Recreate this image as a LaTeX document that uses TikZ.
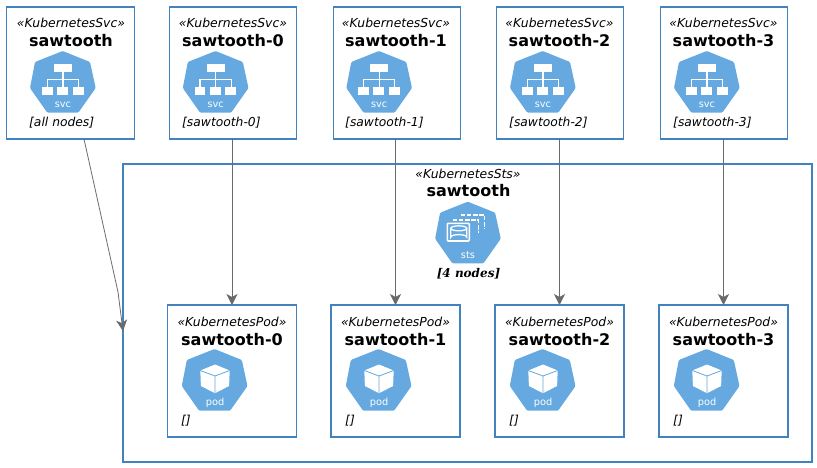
\documentclass[tikz,border=0pt]{standalone}
\usepackage{fontspec}
\setmainfont{DejaVu Sans}
\newfontfamily\serifbi{DejaVu Serif}
\usetikzlibrary{arrows.meta}
\definecolor{kblue}{HTML}{4282BE}
\definecolor{khept}{HTML}{65A9E0}
\definecolor{kline}{HTML}{6A6A6A}
\tikzset{
  x=1pt,y=-1pt,
  kbox/.style={draw=kblue,line width=1.2pt,fill=white,inner sep=0pt,outer sep=0pt},
  stereo/.style={inner sep=0pt,font=\fontsize{12.4}{14}\selectfont\itshape,text=black},
  ttl/.style={inner sep=0pt,font=\fontsize{16}{18}\selectfont\bfseries,text=black},
  lbl/.style={inner sep=0pt,anchor=west,font=\fontsize{12.3}{14}\selectfont\itshape,text=black},
  icontxt/.style={inner sep=0pt,text=white,font=\fontsize{9.8}{11}\selectfont},
  conn/.style={draw=kline,line width=0.8pt,-{Stealth[inset=3pt,length=11pt,width=11pt]}},
  hept/.pic={
    \fill[khept,rounded corners=1.2pt] (0,0) -- (27.3,11) -- (33,37) -- (15.6,61.7) -- (-15.4,61.7) -- (-32.7,37) -- (-27.7,11) -- cycle;
  },
  svcicon/.pic={
    \pic {hept};
    \fill[white] (-8.8,12.7) rectangle (9.2,21);
    \draw[white,line width=1.3pt] (0.2,20.7) -- (0.2,36.5) (-15.5,36.5) -- (-15.5,28.5) -- (15.8,28.5) -- (15.8,36.5);
    \fill[white] (-21,35.8) rectangle (-10.2,43.6);
    \fill[white] (-5.7,35.8) rectangle (5.1,43.6);
    \fill[white] (9.9,35.8) rectangle (20.9,43.6);
    \node[icontxt] at (0.2,53.5) {svc};
  },
  podicon/.pic={
    \pic {hept};
    \fill[white] (0.5,15.5) -- (15.2,21.5) -- (14.6,37) -- (0.5,44.2) -- (-13.6,37) -- (-14.2,21.5) -- cycle;
    \draw[khept,line width=0.8pt] (-14.2,21.5) -- (0.5,27) -- (15.2,21.5) (0.5,27) -- (0.5,44.2);
    \node[icontxt] at (0.5,53.5) {pod};
  },
  stsicon/.pic={
    \pic {hept};
    \draw[white,line width=1.4pt,dash pattern=on 4.5pt off 1.6pt] (-7,13.3) -- (16.5,13.3) -- (16.5,26.6);
    \draw[white,line width=1.4pt,dash pattern=on 4.5pt off 1.6pt] (-15,18.3) -- (10.5,18.3) -- (10.5,31.3);
    \draw[white,line width=1.6pt,fill=khept,rounded corners=1pt] (-20.5,21.6) rectangle (1.5,39.3);
    \draw[white,line width=1.3pt] (-17,26.6) -- (-17,35.4) arc[start angle=180,end angle=360,x radius=8,y radius=2.5] -- (-1,26.6);
    \draw[white,line width=1.3pt] (-9,26.6) ellipse (8 and 2.5);
    \node[icontxt] at (0.2,53.5) {sts};
  }
}
\begin{document}
\begin{tikzpicture}
\useasboundingbox (0,0) rectangle (817,467);
\fill[white] (0,0) rectangle (817,467);
% statefulset
\node[kbox,minimum width=689pt,minimum height=298pt] (sts) at (467.5,313) {};
\node[stereo] (ststereo) at (468,174) {«KubernetesSts»};
\node[ttl] (stsname) at (468.5,191) {sawtooth};
\pic at (467.8,201.7) {stsicon};
\node[inner sep=0pt,font=\fontsize{12}{14}\selectfont\serifbi\bfseries\itshape] (stscount) at (468.5,273.5) {[4 nodes]};
% services
\foreach \n/\t/\l/\c/\tc/\ic/\lx in {
  all/sawtooth/all nodes/70.5/71/62.7/29,
  s0/sawtooth-0/sawtooth-0/233/233/215.5/182,
  s1/sawtooth-1/sawtooth-1/397/396/379/345,
  s2/sawtooth-2/sawtooth-2/560/559.5/542.7/509,
  s3/sawtooth-3/sawtooth-3/724/723.5/706.7/673}{
  \node[kbox,minimum width=127.5pt,minimum height=132pt] (\n) at (\c,73) {};
  \node[stereo] (\n st) at (\tc,23) {«KubernetesSvc»};
  \node[ttl] (\n nm) at (\tc,40.5) {\t};
  \pic at (\ic,51) {svcicon};
  \node[lbl] (\n lb) at (\lx,122.5) {[\l]};
}
% pods
\foreach \n/\t/\c/\ic/\lx in {
  p0/sawtooth-0/232/214.5/181,
  p1/sawtooth-1/395.5/378.5/345,
  p2/sawtooth-2/559.5/542.5/509,
  p3/sawtooth-3/723.5/706.5/673}{
  \node[kbox,minimum width=129pt,minimum height=132pt] (\n) at (\c,371) {};
  \node[stereo] (\n st) at (\c,322) {«KubernetesPod»};
  \node[ttl] (\n nm) at (\c,339.5) {\t};
  \pic at (\ic,349) {podicon};
  \node[lbl] (\n lb) at (\lx,420.5) {[]};
}
% connectors
\coordinate (allout) at (84,139);
\coordinate (stsin) at (123,331);
\draw[conn] (allout) -- (118,292) -- (stsin);
\draw[conn] (s0.south -| p0.north) -- (p0.north);
\draw[conn] (s1.south -| p1.north) -- (p1.north);
\draw[conn] (s2.south -| p2.north) -- (p2.north);
\draw[conn] (s3.south -| p3.north) -- (p3.north);
\end{tikzpicture}
\end{document}
